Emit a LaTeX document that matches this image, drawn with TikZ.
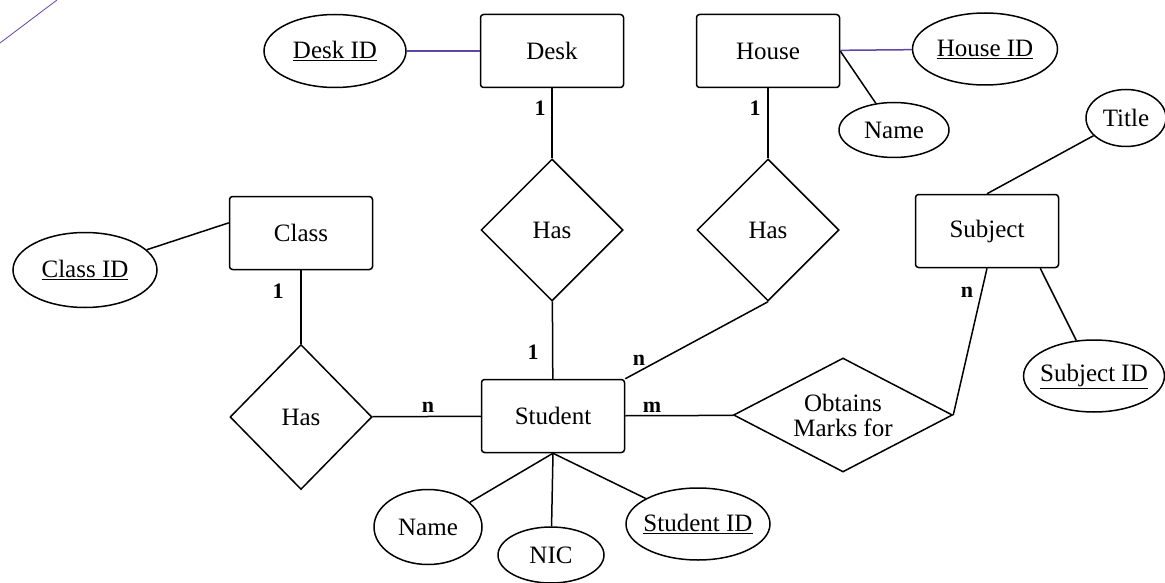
\documentclass[tikz,border=0pt]{standalone}
\usepackage{fontspec}
\setmainfont{Liberation Serif}
\usepackage{tikz}
\usetikzlibrary{shapes.geometric}
\definecolor{penviolet}{RGB}{95,70,165}

\begin{document}
\begin{tikzpicture}[x=1pt, y=-1pt, line width=1.5pt,
		every node/.style={font=\fontsize{25}{25}\selectfont},
		entity/.style={draw, rounded corners=3pt, minimum width=143pt, minimum height=73pt, inner sep=0pt},
		attrib/.style={draw, ellipse, inner xsep=-4pt, inner ysep=0pt},
		relation/.style={draw, diamond, inner sep=0pt, minimum width=142pt, minimum height=142pt},
		card/.style={font=\bfseries\fontsize{22}{22}\selectfont, inner sep=0pt}]
			\useasboundingbox (0,0) rectangle (1165,583);
			\fill[white] (0,0) rectangle (1165,583);
			\draw[penviolet, line width=0.8pt] (0,43) -- (57,0);
			% entities
			\node[entity] (desk) at (552,51) {Desk};
			\node[entity] (house) at (768,51) {House};
			\node[entity] (class) at (301,233) {Class};
			\node[entity] (subject) at (987,231) {Subject};
			\node[entity] (student) at (553,416) {Student};
			% attributes
			\node[attrib, minimum width=142pt, minimum height=73pt] (deskid) at (335,51) {\underline{Desk ID}};
			\node[attrib, minimum width=145pt, minimum height=72pt] (houseid) at (985,49) {\underline{House ID}};
			\node[attrib, minimum width=110pt, minimum height=55pt] (hname) at (894,130) {Name};
			\node[attrib, minimum width=80pt, minimum height=57pt] (title) at (1126,118) {Title};
			\node[attrib, minimum width=144pt, minimum height=75pt] (classid) at (85,270) {\underline{Class ID}};
			\node[attrib, minimum width=140pt, minimum height=72pt] (subjectid) at (1094,376) {\underline{Subject ID}};
			\node[attrib, minimum width=108pt, minimum height=75pt] (sname) at (428,527) {Name};
			\node[attrib, minimum width=106pt, minimum height=56pt] (nic) at (551,555) {NIC};
			\node[attrib, minimum width=144pt, minimum height=72pt] (studentid) at (698,524) {\underline{Student ID}};
			% relationships
			\node[relation] (hasdesk) at (552,230) {Has};
			\node[relation] (hashouse) at (768,230) {Has};
			\node[relation, minimum height=145pt] (hasclass) at (301,417) {Has};
			\node[relation, aspect=2, minimum width=219pt, minimum height=114pt, align=center] (obtains) at (843,415) {Obtains\\Marks for};
			% cardinalities
			\node[card] (cdesk) at (540,108) {1};
			\node[card] (chouse) at (755,108) {1};
			\node[card] (cclass) at (278,291) {1};
			\node[card] (cstudtop) at (533,352) {1};
			\node[card] (cstudright) at (639,360) {n};
			\node[card] (cstudleft) at (428,407) {n};
			\node[card] (cstudm) at (652,407) {m};
			\node[card] (csubject) at (967,292) {n};
			% connectors
			\draw[penviolet] (deskid) -- (desk);
			\draw[penviolet] (house) -- (houseid);
			\draw (house.east) -- (hname);
			\draw (title) -- (subject.north);
			\draw (subject.-35) -- (subjectid);
			\draw (obtains.east) -- (subject.south);
			\draw (classid) -- (class.172);
			\draw (class) -- (hasclass);
			\draw (desk) -- (hasdesk);
			\draw (house) -- (hashouse);
			\draw (hasdesk) -- (student);
			\draw (hashouse.south) -- (student.north east);
			\draw (hasclass) -- (student);
			\draw (student) -- (obtains);
			\draw (student.south) -- (sname);
			\draw (student.south) -- (nic);
			\draw (student.south) -- (studentid);
		\end{tikzpicture}
\end{document}
